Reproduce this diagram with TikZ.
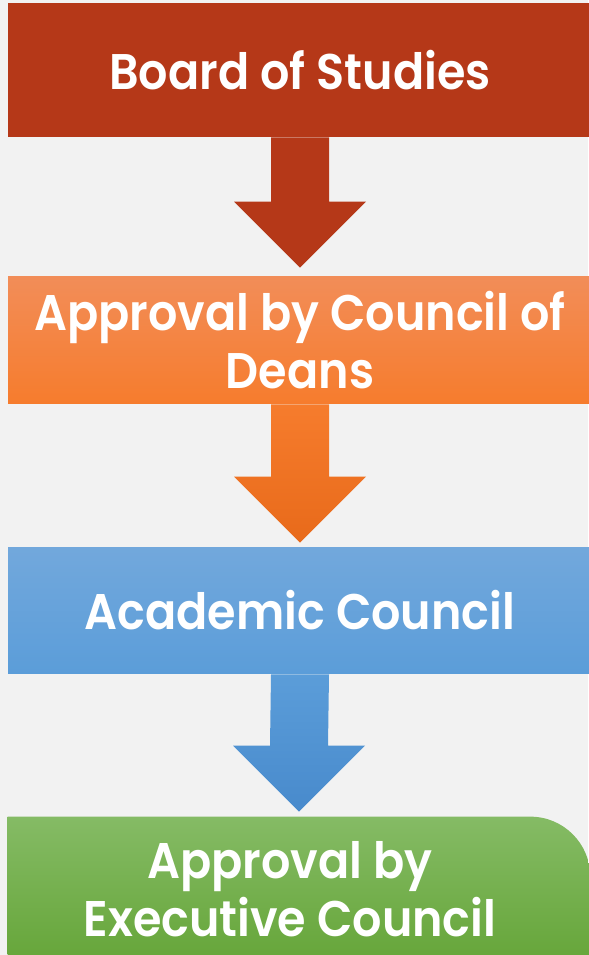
\documentclass[tikz,border=0pt]{standalone}
\usepackage{fontspec}
\setmainfont{Poppins}[BoldFont={Poppins SemiBold}, BoldFeatures={FakeStretch=0.92}]
\usetikzlibrary{calc}

\definecolor{bg}{RGB}{242,242,242}
\definecolor{bosred}{RGB}{181,56,24}
\definecolor{orangetop}{RGB}{242,141,88}
\definecolor{orangebot}{RGB}{246,124,45}
\definecolor{orangearr}{RGB}{232,106,26}
\definecolor{bluetop}{RGB}{114,168,220}
\definecolor{bluebot}{RGB}{91,157,217}
\definecolor{bluearr}{RGB}{72,138,204}
\definecolor{greentop}{RGB}{133,187,101}
\definecolor{greenbot}{RGB}{101,165,56}

\tikzset{
  stage/.style={minimum width=11.68cm, minimum height=2.54cm, inner sep=0pt,
    text=white, align=center, font=\bfseries\fontsize{28.5pt}{33pt}\selectfont},
}

% block arrow from one box down to the next
\newcommand{\flowarrow}[5]{
  \shade[top color=#4, bottom color=#5]
    ($(#1.south)+(-29,0)$) -- ($(#2.north)+(-29,#3+66)$) -- ($(#2.north)+(-66,#3+66)$)
    -- ($(#2.north)+(0,#3)$) -- ($(#2.north)+(66,#3+66)$) -- ($(#2.north)+(29,#3+66)$)
    -- ($(#1.south)+(29,0)$) -- cycle;
}

\begin{document}
\begin{tikzpicture}[x=0.02cm, y=0.02cm]
    \fill[bg] (0,0) rectangle (588,955);
    \useasboundingbox (0,0) rectangle (588,955);

    \node[stage, fill=bosred, minimum height=2.68cm] (bos) at (300,885) {Board of Studies};
    \node[stage, top color=orangetop, bottom color=orangebot] (pcd) at (300,614.5)
        {Approval by Council of\\Deans};
    \node[stage, top color=bluetop, bottom color=bluebot] (ac) at (300,344.5) {Academic Council};

    % last box has one round corner
    \node[stage, minimum width=11.64cm, minimum height=2.96cm] (ecbox) at (299,64) {};
    \shade[top color=greentop, bottom color=greenbot] (ecbox.south west) -- (ecbox.north west)
        -- ($(ecbox.north east)+(-60,0)$) arc[start angle=90, end angle=0, radius=1.2cm]
        -- (ecbox.south east) -- cycle;
    \node[stage, minimum width=0pt, minimum height=0pt] (ec) at (290,65.5)
        {Approval by\\Executive Council};

    \flowarrow{bos}{pcd}{9}{bosred}{bosred}
    \flowarrow{pcd}{ac}{4}{orangebot}{orangearr}
    \flowarrow{ac}{ecbox}{5}{bluebot}{bluearr}
\end{tikzpicture}
\end{document}
